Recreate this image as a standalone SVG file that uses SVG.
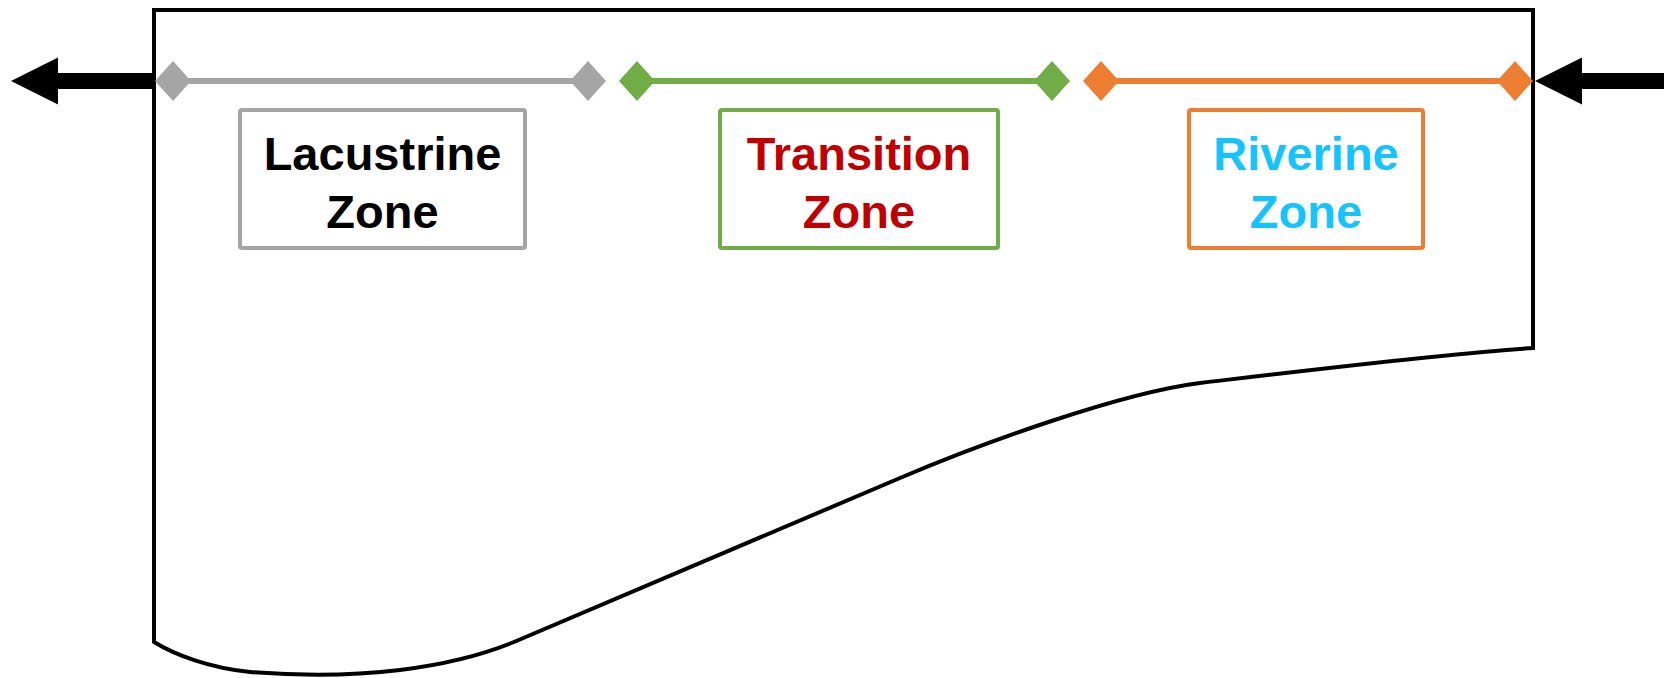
<svg xmlns="http://www.w3.org/2000/svg" width="1664" height="678" viewBox="0 0 1664 678">
  <style>
    .outline { fill: none; stroke: #000; stroke-width: 4; stroke-linejoin: miter; }
    .box { fill: #fff; stroke-width: 4; }
    .label { font-family: "Liberation Sans", Arial, sans-serif; font-weight: bold; font-size: 47px; text-anchor: middle; }
    .zone { stroke-width: 6; fill: none; }
    .flow { stroke: #000; stroke-width: 16; fill: none; }
  </style>
  <defs>
    <marker id="dGray" viewBox="-18 -20 36 40" markerWidth="36" markerHeight="40" refX="0" refY="0" markerUnits="userSpaceOnUse" orient="0">
      <path d="M-18,0 L0,-20 L18,0 L0,20 Z" fill="#A5A5A5"/>
    </marker>
    <marker id="dGreen" viewBox="-18 -20 36 40" markerWidth="36" markerHeight="40" refX="0" refY="0" markerUnits="userSpaceOnUse" orient="0">
      <path d="M-18,0 L0,-20 L18,0 L0,20 Z" fill="#70AD47"/>
    </marker>
    <marker id="dOrange" viewBox="-18 -20 36 40" markerWidth="36" markerHeight="40" refX="0" refY="0" markerUnits="userSpaceOnUse" orient="0">
      <path d="M-18,0 L0,-20 L18,0 L0,20 Z" fill="#ED7D31"/>
    </marker>
    <marker id="head" viewBox="0 -24 48 48" markerWidth="48" markerHeight="48" refX="0" refY="0" markerUnits="userSpaceOnUse" orient="auto">
      <path d="M0,-23.5 L47,0 L0,23.5 Z" fill="#000"/>
    </marker>
  </defs>

  <g id="reservoir">
    <path class="outline" d="M154,642 L154,10 L1533,10 L1533,348 C1450,353 1310,370 1200,383 C1120,393 980,444 900,478 L514,642 C480,656 440,665 400,670 C350,676 300,676 250,672 C210,668 175,655 154,642 Z"/>
  </g>

  <g id="connectors">
    <line class="flow" x1="152" y1="81" x2="58" y2="81" marker-end="url(#head)"/>
    <line class="flow" x1="1664" y1="81" x2="1582" y2="81" marker-end="url(#head)"/>
    <line class="zone" x1="173" y1="81" x2="588" y2="81" stroke="#A5A5A5" marker-start="url(#dGray)" marker-end="url(#dGray)"/>
    <line class="zone" x1="637" y1="81" x2="1052" y2="81" stroke="#70AD47" marker-start="url(#dGreen)" marker-end="url(#dGreen)"/>
    <line class="zone" x1="1101" y1="81" x2="1515" y2="81" stroke="#ED7D31" marker-start="url(#dOrange)" marker-end="url(#dOrange)"/>
  </g>

  <g id="lacustrine">
    <rect class="box" x="240" y="110" width="285" height="138" rx="2" stroke="#A5A5A5"/>
    <text class="label" x="382.5" y="170" fill="#000">Lacustrine</text>
    <text class="label" x="382.5" y="228" fill="#000">Zone</text>
  </g>

  <g id="transition">
    <rect class="box" x="720" y="110" width="278" height="138" rx="2" stroke="#70AD47"/>
    <text class="label" x="859" y="170" fill="#C00000">Transition</text>
    <text class="label" x="859" y="228" fill="#C00000">Zone</text>
  </g>

  <g id="riverine">
    <rect class="box" x="1189" y="110" width="234" height="138" rx="2" stroke="#ED7D31"/>
    <text class="label" x="1306" y="170" fill="#14C3FF">Riverine</text>
    <text class="label" x="1306" y="228" fill="#14C3FF">Zone</text>
  </g>
</svg>
